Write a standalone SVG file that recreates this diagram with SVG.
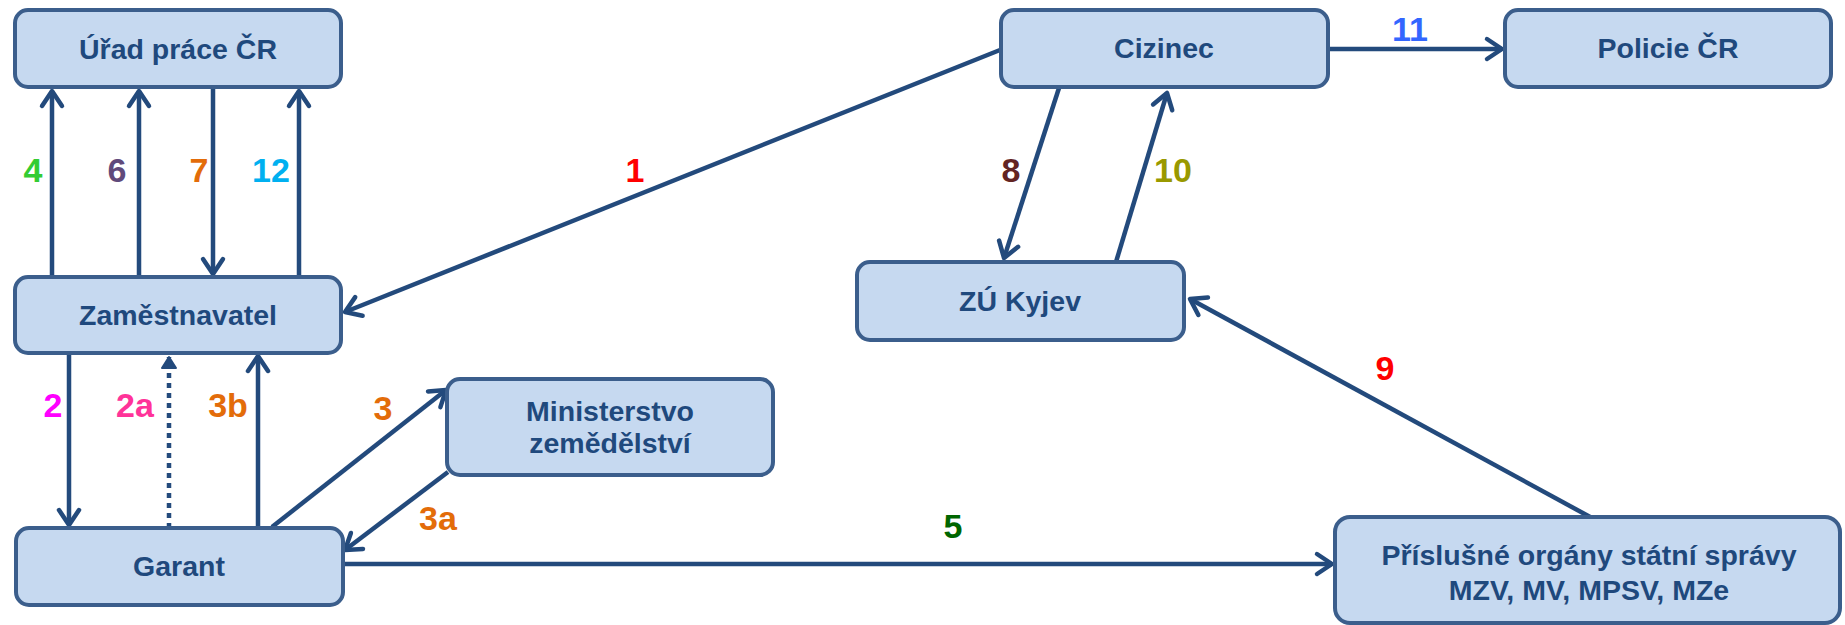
<svg xmlns="http://www.w3.org/2000/svg" width="1845" height="625" viewBox="0 0 1845 625">
<style>
.box{fill:#c6d9f0;stroke:#3b5e8c;stroke-width:4}
.nt{font-family:"Liberation Sans",Arial,sans-serif;font-weight:bold;font-size:28.5px;fill:#1f497d;text-anchor:middle}
.lb{font-family:"Liberation Sans",Arial,sans-serif;font-weight:bold;font-size:34px;text-anchor:middle}
.c{fill:none;stroke:#234a7c;stroke-width:4.5;marker-end:url(#ah)}
.d{fill:none;stroke:#234a7c;stroke-width:4.5;stroke-dasharray:5 5;marker-end:url(#ahs)}
</style>
<defs>
<marker id="ah" markerUnits="userSpaceOnUse" viewBox="-20 -14 24 28" refX="0" refY="0" markerWidth="24" markerHeight="28" orient="auto" overflow="visible">
<path d="M-15,-10 L0,0 L-15,10" fill="none" stroke="#234a7c" stroke-width="4.5" stroke-linecap="round" stroke-linejoin="round"/>
</marker>
<marker id="ahs" markerUnits="userSpaceOnUse" viewBox="-14 -9 16 18" refX="0" refY="0" markerWidth="16" markerHeight="18" orient="auto" overflow="visible">
<path d="M-11,-7 L0,0 L-11,7 Z" fill="#234a7c" stroke="#234a7c" stroke-width="2" stroke-linejoin="round"/>
</marker>
</defs>
<rect width="1845" height="625" fill="#ffffff"/>
<g id="connectors">
<path class="c" d="M1000,50 L345,312"/>
<path class="c" d="M52,277 L52,91"/>
<path class="c" d="M139,277 L139,91"/>
<path class="c" d="M213,88 L213,274"/>
<path class="c" d="M299,277 L299,91"/>
<path class="c" d="M69,353 L69,525"/>
<path class="d" d="M169,528 L169,357"/>
<path class="c" d="M258,528 L258,356"/>
<path class="c" d="M272,527 L446,390"/>
<path class="c" d="M448,472 L345,550"/>
<path class="c" d="M343,564 L1332,564"/>
<path class="c" d="M1059,88 L1004,258"/>
<path class="c" d="M1116,262 L1167,93"/>
<path class="c" d="M1592,518 L1190,299"/>
<path class="c" d="M1328,49 L1502,49"/>
</g>
<g id="labels">
<text class="lb" x="635" y="182" fill="#ff0000">1</text>
<text class="lb" x="33" y="182" fill="#33cc33">4</text>
<text class="lb" x="117" y="182" fill="#604a7b">6</text>
<text class="lb" x="199" y="182" fill="#e36c09">7</text>
<text class="lb" x="271" y="182" fill="#00b0f0">12</text>
<text class="lb" x="53" y="417" fill="#ff00ff">2</text>
<text class="lb" x="135" y="417" fill="#ff3399">2a</text>
<text class="lb" x="228" y="417" fill="#e36c09">3b</text>
<text class="lb" x="383" y="420" fill="#e36c09">3</text>
<text class="lb" x="438" y="530" fill="#e36c09">3a</text>
<text class="lb" x="953" y="538" fill="#006600">5</text>
<text class="lb" x="1011" y="182" fill="#632423">8</text>
<text class="lb" x="1173" y="182" fill="#999900">10</text>
<text class="lb" x="1385" y="380" fill="#ff0000">9</text>
<text class="lb" x="1410" y="41" fill="#3366ff">11</text>
</g>
<g id="urad"><rect class="box" x="15" y="10" width="326" height="77" rx="13"/><text class="nt" x="178" y="59">Úřad práce ČR</text></g>
<g id="zamestnavatel"><rect class="box" x="15" y="277" width="326" height="76" rx="13"/><text class="nt" x="178" y="325">Zaměstnavatel</text></g>
<g id="garant"><rect class="box" x="16" y="528" width="327" height="77" rx="13"/><text class="nt" x="179" y="576">Garant</text></g>
<g id="ministerstvo"><rect class="box" x="447" y="379" width="326" height="96" rx="13"/><text class="nt" x="610" y="421">Ministerstvo</text><text class="nt" x="610" y="453">zemědělství</text></g>
<g id="cizinec"><rect class="box" x="1001" y="10" width="327" height="77" rx="13"/><text class="nt" x="1164" y="58">Cizinec</text></g>
<g id="policie"><rect class="box" x="1505" y="10" width="326" height="77" rx="13"/><text class="nt" x="1668" y="58">Policie ČR</text></g>
<g id="zu-kyjev"><rect class="box" x="857" y="262" width="327" height="78" rx="13"/><text class="nt" x="1020" y="311">ZÚ Kyjev</text></g>
<g id="organy"><rect class="box" x="1335" y="517" width="505" height="106" rx="15"/><text class="nt" x="1589" y="565">Příslušné orgány státní správy</text><text class="nt" x="1589" y="600">MZV, MV, MPSV, MZe</text></g>
</svg>
